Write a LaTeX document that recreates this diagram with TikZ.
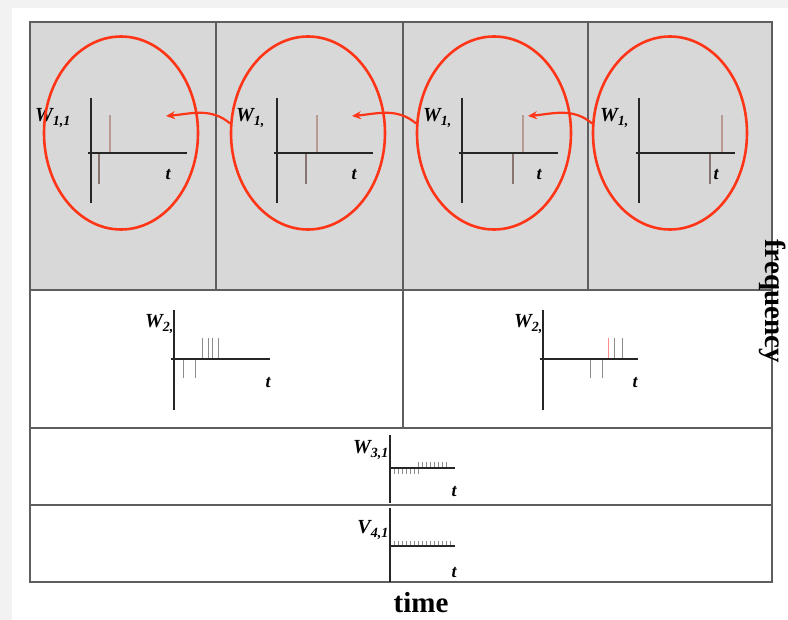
\documentclass[tikz,border=0pt]{standalone}
\usepackage{fontspec}
\setmainfont{Liberation Serif}
\usetikzlibrary{shapes.geometric,arrows.meta}
\definecolor{cellFill}{HTML}{D8D8D8}
\definecolor{frameGray}{HTML}{5E5E5E}
\definecolor{ringRed}{HTML}{FF3517}
\definecolor{spikeUp}{HTML}{B89A92}
\definecolor{spikeDown}{HTML}{8A7470}

\begin{document}
\begin{tikzpicture}[
    x=1pt, y=-1pt,
    frame/.style={draw=frameGray, line width=2pt},
    ring/.style={ellipse, draw=ringRed, line width=2.6pt,
        minimum width=154pt, minimum height=193pt, inner sep=0pt},
    axis/.style={line width=2.8pt, draw=black!85},
    spike/.style={line width=1.3pt},
    tick/.style={line width=0.7pt, draw=black!45},
    wlabel/.style={font=\fontsize{20}{20}\selectfont\bfseries\itshape, inner sep=0pt},
    tlabel/.style={font=\fontsize{18}{18}\selectfont\bfseries\itshape, inner sep=0pt},
    hop/.style={-{Stealth[length=9pt,width=8pt]}, draw=ringRed, line width=2.2pt}
]
  % page and outer frame
  \fill[gray!10] (0,0) rectangle (788,620);
  \fill[white] (12,8) rectangle (788,620);
  \useasboundingbox (0,0) rectangle (788,620);
  \fill[cellFill] (30,22) rectangle (772,290);

  % Rows and cells
  \draw[frame] (30,22) rectangle (772,582);
  \draw[frame] (30,290) -- (772,290);
  \draw[frame] (30,428) -- (772,428);
  \draw[frame] (30,505) -- (772,505);
  \foreach \cx in {216,403,588}
    \draw[frame] (\cx,22) -- (\cx,290);
  \draw[frame] (403,290) -- (403,428);

  % Level 1: four windows
  \foreach \i/\ax/\up/\dn/\lx/\sub in {1/91/110/99/35/{1,1}, 2/277/317/306/236/{1,}, 3/462/523/513/423/{1,}, 4/639/722/710/600/{1,}} {
    \draw[spike, spikeUp] (\up,153) -- (\up,115);
    \draw[spike, spikeDown] (\dn,153) -- (\dn,184);
    \draw[axis] (\ax,98) -- (\ax,203);
    \draw[axis] (\ax-3,153) -- (\ax+96,153);
    \node[wlabel, anchor=west] (w1\i) at (\lx,118) {W\textsubscript{\sub}};
    \node[tlabel] (t1\i) at (\ax+77,175) {t};
  }

  % Red rings round each window
  \node[ring] (e1) at (121,133) {};
  \node[ring] (e2) at (308,133) {};
  \node[ring] (e3) at (494,133) {};
  \node[ring] (e4) at (670,133) {};

  \coordinate (tip1) at (166,116);
  \coordinate (tip2) at (352,116);
  \coordinate (tip3) at (528,116);
  \draw[hop] (e2.173) to[out=140,in=5] (tip1);
  \draw[hop] (e3.173) to[out=140,in=5] (tip2);
  \draw[hop] (e4.173) to[out=140,in=5] (tip3);

  % Level 2
  \foreach \x in {183,195}
    \draw[tick, line width=1pt] (\x,359) -- (\x,378);
  \foreach \x in {202,208,212,218}
    \draw[tick, line width=1pt] (\x,359) -- (\x,338);
  \draw[axis] (174,310) -- (174,410);
  \draw[axis] (171,359) -- (270,359);
  \node[wlabel, anchor=east] (w21) at (174,324) {W\textsubscript{2,}};
  \node[tlabel] (t21) at (268,383) {t};

  \foreach \x in {590,602}
    \draw[tick, line width=1pt] (\x,359) -- (\x,378);
  \draw[line width=1pt, red!45] (608,359) -- (608,338);
  \foreach \x in {614,622}
    \draw[tick, line width=1pt] (\x,359) -- (\x,338);
  \draw[axis] (543,310) -- (543,410);
  \draw[axis] (540,359) -- (638,359);
  \node[wlabel, anchor=east] (w22) at (543,324) {W\textsubscript{2,}};
  \node[tlabel] (t22) at (635,383) {t};

  % Level 3
  \foreach \x in {394,398,...,418}
    \draw[tick] (\x,468) -- (\x,474);
  \foreach \x in {418,422,...,446}
    \draw[tick] (\x,468) -- (\x,462);
  \draw[axis] (390,435) -- (390,503);
  \draw[axis] (390,468) -- (455,468);
  \node[wlabel, anchor=east] (w31) at (389,450) {W\textsubscript{3,1}};
  \node[tlabel] (t31) at (454,492) {t};

  % Level 4 (scaling)
  \foreach \x in {394,398,...,450}
    \draw[tick] (\x,546) -- (\x,541);
  \draw[axis] (390,508) -- (390,582);
  \draw[axis] (390,546) -- (455,546);
  \node[wlabel, anchor=east] (v41) at (389,530) {V\textsubscript{4,1}};
  \node[tlabel] (t41) at (454,573) {t};

  % Axis names
  \node[font=\fontsize{29}{29}\selectfont\bfseries, inner sep=0pt] (time) at (421,603) {time};
  \node[font=\fontsize{29}{29}\selectfont\bfseries, inner sep=0pt, rotate=-90] (freq) at (773,301) {frequency};
\end{tikzpicture}
\end{document}
